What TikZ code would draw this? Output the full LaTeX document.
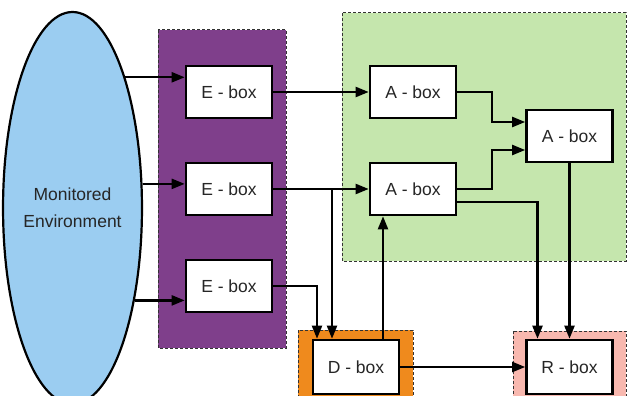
\documentclass[tikz,border=0pt]{standalone}
\usepackage{fontspec}
\setmainfont{Liberation Sans}
\usetikzlibrary{arrows.meta,shapes.geometric}
\definecolor{envblue}{HTML}{9BCDF1}
\definecolor{eviolet}{HTML}{7F3F8B}
\definecolor{agreen}{HTML}{C5E6AD}
\definecolor{dorange}{HTML}{EF8A1D}
\definecolor{rpink}{HTML}{F8B8AF}
\tikzset{
  unit/.style={draw, line width=2.6pt, fill=white, minimum width=86pt,
    minimum height=52pt, inner sep=0pt, text=black!85,
    font=\fontsize{17.5}{20}\selectfont},
  zone/.style={draw=black!80, line width=1pt, dash pattern=on 3pt off 2pt},
  link/.style={line width=2.2pt, -{Triangle[length=13pt,width=10pt]}}
}
\begin{document}
\begin{tikzpicture}[x=1pt, y=-1pt]
      \useasboundingbox (0,0) rectangle (630,396);
      % dashed areas behind the boxes
      \draw[zone, fill=eviolet] (158,30) rectangle (286,348);
      \draw[zone, fill=agreen] (342,13) rectangle (626,261);
      \draw[zone, fill=dorange] (298,330) rectangle (413,405);
      \draw[zone, fill=rpink] (513,331) rectangle (626,405);
      \node[ellipse, draw, line width=2.2pt, fill=envblue, minimum width=111pt,
        minimum height=392pt, inner sep=0pt, align=center, text=black!85,
        font=\fontsize{17.5}{27}\selectfont] (env) at (72.5,208) {Monitored\\Environment};
      \draw
        (229,92) node[unit] (e1) {E - box}
        (229,189) node[unit] (e2) {E - box}
        (229,286) node[unit] (e3) {E - box}
        (413,92) node[unit] (a1) {A - box}
        (413,189) node[unit] (a2) {A - box}
        (569.5,136) node[unit] (a3) {A - box}
        (356,367) node[unit, minimum height=54pt] (d) {D - box}
        (569.5,367) node[unit, minimum height=54pt] (r) {R - box};
      \begin{scope}[link]
        \draw (env.68.6) -- (env.68.6 -| e1.west);
        \draw (env.19) -- (env.19 -| e2.west);
        \draw (env.-56.9) -- (env.-56.9 -| e3.west);
        \draw (e1) to (a1);
        \draw (e2) to (a2);
        \draw (e2.east) -| ([xshift=-24pt]d.north);
        \draw (e3.east) -| ([xshift=-39pt]d.north);
        \draw ([xshift=27pt]d.north) -- ([xshift=27pt]d.north |- a2.south);
        \draw (a1.east) -- ++(35,0) |- ([yshift=14pt]a3.west);
        \draw (a2.east) -- ++(35,0) |- ([yshift=-14pt]a3.west);
        \draw ([yshift=-13pt]a2.east) -| ([xshift=-32pt]r.north);
        \draw (a3) to (r);
        \draw (d) to (r);
      \end{scope}
    \end{tikzpicture}
\end{document}
